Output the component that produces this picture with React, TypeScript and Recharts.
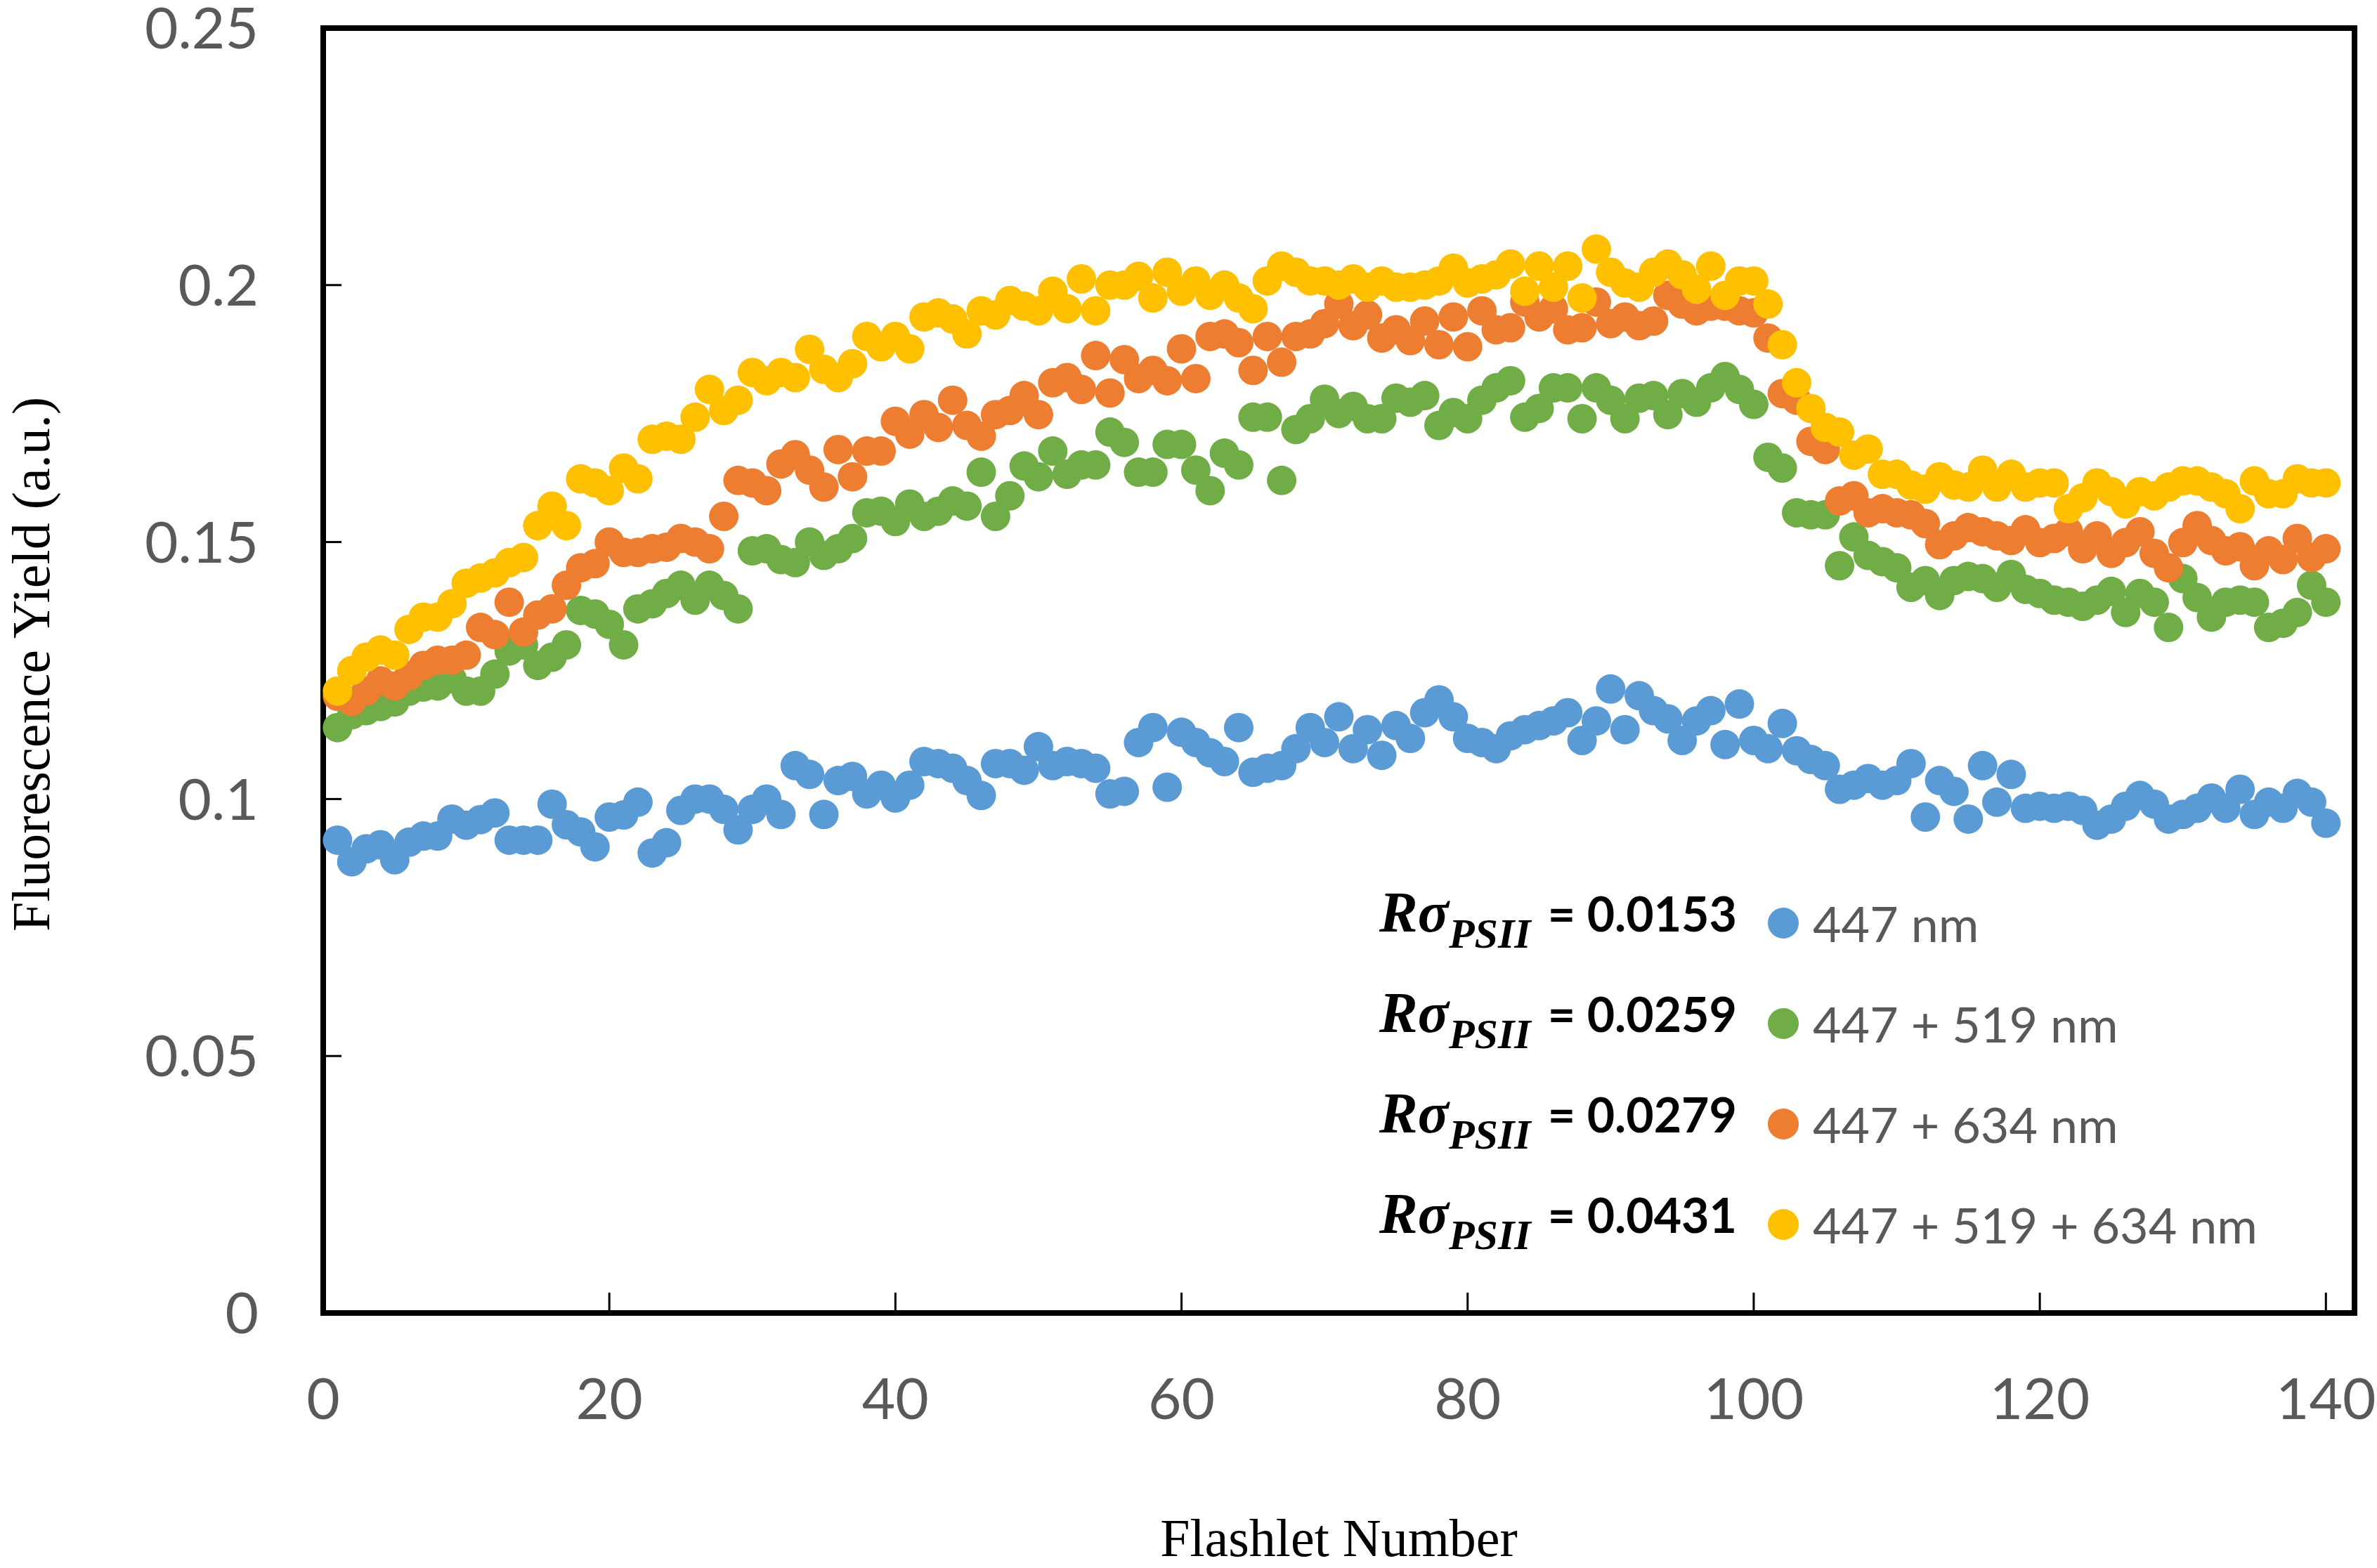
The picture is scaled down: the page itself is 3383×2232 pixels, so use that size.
import { ScatterChart, Scatter, XAxis, YAxis, ReferenceArea } from "recharts";

// fluorescence yield per flashlet (flashlet 1..140)
const yield447 = [
  0.092, 0.0878, 0.0903, 0.0911, 0.0882, 0.0916, 0.0928, 0.0928, 0.0961, 0.0949,
  0.096, 0.0973, 0.092, 0.092, 0.092, 0.099, 0.095, 0.0936, 0.0907, 0.0965,
  0.0969, 0.0994, 0.0895, 0.0915, 0.0978, 0.1, 0.1, 0.098, 0.094, 0.098,
  0.1, 0.097, 0.1065, 0.1048, 0.097, 0.1036, 0.1044, 0.101, 0.1027, 0.1002,
  0.1027, 0.1073, 0.1069, 0.106, 0.1036, 0.1007, 0.1069, 0.1069, 0.1056, 0.1102,
  0.1065, 0.1073, 0.1069, 0.106, 0.101, 0.1015, 0.111, 0.1139, 0.1023, 0.113,
  0.111, 0.109, 0.1073, 0.1139, 0.1052, 0.106, 0.1065, 0.1098, 0.1139, 0.111,
  0.116, 0.1098, 0.1135, 0.1085, 0.1143, 0.1118, 0.1168, 0.1193, 0.116, 0.1118,
  0.111, 0.1098, 0.1123, 0.1135, 0.1143, 0.1152, 0.1168, 0.1114, 0.1152, 0.1214,
  0.1135, 0.1201, 0.1172, 0.1156, 0.1114, 0.1152, 0.1172, 0.1106, 0.1185, 0.1114,
  0.1098, 0.1147, 0.1094, 0.1077, 0.1065, 0.1019, 0.1027, 0.104, 0.1027, 0.1036,
  0.1069, 0.0965, 0.1036, 0.1015, 0.0961, 0.1065, 0.0994, 0.1048, 0.0982, 0.0986,
  0.0982, 0.0986, 0.0978, 0.0949, 0.0961, 0.0986, 0.1007, 0.099, 0.0961, 0.097,
  0.0982, 0.1002, 0.0982, 0.1019, 0.097, 0.0994, 0.0982, 0.1011, 0.0994, 0.0953,
];

const yield447_519 = [
  0.1139, 0.1164, 0.1172, 0.118, 0.1189, 0.121, 0.1218, 0.122, 0.1234, 0.121,
  0.121, 0.1243, 0.1288, 0.13, 0.126, 0.1276, 0.13, 0.1367, 0.136, 0.134,
  0.13, 0.137, 0.138, 0.14, 0.1416, 0.1387, 0.1416, 0.1396, 0.137, 0.1483,
  0.1487, 0.1466, 0.146, 0.15, 0.1474, 0.1487, 0.1507, 0.1557, 0.156, 0.154,
  0.1574, 0.155, 0.156, 0.158, 0.157, 0.1636, 0.155, 0.159, 0.1648, 0.1627,
  0.1677, 0.1632, 0.165, 0.165, 0.1714, 0.1694, 0.1636, 0.1636, 0.169, 0.169,
  0.164, 0.16, 0.1673, 0.165, 0.1743, 0.1743, 0.162, 0.1719, 0.174, 0.1778,
  0.175, 0.1764, 0.174, 0.174, 0.178, 0.1772, 0.1785, 0.1727, 0.1752, 0.174,
  0.1776, 0.18, 0.1814, 0.1743, 0.176, 0.18, 0.18, 0.174, 0.18, 0.1776,
  0.174, 0.178, 0.1785, 0.1748, 0.1789, 0.1772, 0.18, 0.1822, 0.1797, 0.1768,
  0.1665, 0.1644, 0.1557, 0.1553, 0.1553, 0.1454, 0.151, 0.1474, 0.1462, 0.145,
  0.1412, 0.1425, 0.1396, 0.1425, 0.1433, 0.1429, 0.1412, 0.1437, 0.1408, 0.14,
  0.1387, 0.1383, 0.1375, 0.1387, 0.1404, 0.1363, 0.14, 0.1383, 0.1334, 0.1429,
  0.1392, 0.1354, 0.1383, 0.1387, 0.1383, 0.1334, 0.1342, 0.1363, 0.1416, 0.1383,
];

const yield447_634 = [
  0.12, 0.119, 0.121, 0.123, 0.122, 0.124, 0.126, 0.127, 0.127, 0.128,
  0.1334, 0.132, 0.1383, 0.1325, 0.1358, 0.137, 0.1416, 0.145, 0.1458, 0.15,
  0.148, 0.148, 0.1487, 0.149, 0.1507, 0.15, 0.1487, 0.155, 0.162, 0.1615,
  0.16, 0.1652, 0.167, 0.164, 0.1607, 0.168, 0.1627, 0.1677, 0.1677, 0.1735,
  0.171, 0.1748, 0.1723, 0.1776, 0.1727, 0.1706, 0.1748, 0.1756, 0.1785, 0.1748,
  0.181, 0.182, 0.1797, 0.1863, 0.179, 0.1855, 0.1818, 0.1834, 0.1814, 0.1876,
  0.1818, 0.19, 0.1905, 0.1888, 0.1834, 0.19, 0.185, 0.19, 0.1905, 0.1925,
  0.1963, 0.1921, 0.1942, 0.1897, 0.1913, 0.1892, 0.193, 0.1884, 0.1938, 0.188,
  0.195, 0.1913, 0.1917, 0.1967, 0.1938, 0.1954, 0.1913, 0.1917, 0.1967, 0.1925,
  0.1938, 0.1921, 0.193, 0.198, 0.1963, 0.195, 0.1959, 0.1959, 0.195, 0.1946,
  0.1897, 0.1789, 0.1776, 0.1696, 0.168, 0.158, 0.159, 0.1557, 0.1565, 0.1557,
  0.1553, 0.1536, 0.1495, 0.1512, 0.1528, 0.152, 0.1512, 0.1503, 0.1524, 0.1499,
  0.1507, 0.152, 0.1487, 0.1512, 0.1478, 0.1499, 0.152, 0.1478, 0.145, 0.1499,
  0.1532, 0.1503, 0.1483, 0.1491, 0.1454, 0.1483, 0.1466, 0.1507, 0.147, 0.1487,
];

const yield447_519_634 = [
  0.121, 0.125, 0.1276, 0.129, 0.128, 0.133, 0.1354, 0.1354, 0.138, 0.142,
  0.143, 0.144, 0.146, 0.147, 0.1532, 0.157, 0.1532, 0.1623, 0.1615, 0.16,
  0.1644, 0.1623, 0.17, 0.1706, 0.17, 0.1743, 0.1797, 0.1756, 0.1776, 0.183,
  0.1814, 0.183, 0.182, 0.1875, 0.1836, 0.182, 0.1847, 0.19, 0.188, 0.19,
  0.1876, 0.1938, 0.1946, 0.1934, 0.1905, 0.195, 0.1942, 0.197, 0.1959, 0.195,
  0.1988, 0.1954, 0.2012, 0.195, 0.2, 0.2, 0.2017, 0.1975, 0.2025, 0.1988,
  0.2008, 0.198, 0.2, 0.1975, 0.1954, 0.2008, 0.2037, 0.2025, 0.2008, 0.2008,
  0.2, 0.2012, 0.1996, 0.2008, 0.1996, 0.1996, 0.2, 0.2008, 0.2033, 0.2004,
  0.2012, 0.202, 0.2041, 0.1988, 0.2037, 0.1996, 0.2037, 0.1975, 0.207, 0.2025,
  0.2004, 0.1996, 0.2025, 0.2041, 0.202, 0.1992, 0.2037, 0.198, 0.2008, 0.2008,
  0.1963, 0.1884, 0.181, 0.176, 0.1723, 0.1714, 0.1669, 0.1681, 0.1632, 0.1632,
  0.1611, 0.1603, 0.1627, 0.1611, 0.1607, 0.164, 0.1607, 0.1632, 0.1607, 0.1615,
  0.1615, 0.1565, 0.1586, 0.1615, 0.1598, 0.1574, 0.1598, 0.159, 0.1607, 0.1619,
  0.1619, 0.1607, 0.1594, 0.1565, 0.1619, 0.1594, 0.1594, 0.1623, 0.1615, 0.1615,
];

const seriesNames = ["447 nm", "447 + 519 nm", "447 + 634 nm", "447 + 519 + 634 nm"];
const seriesColors = ["#5B9BD5", "#70AD47", "#ED7D31", "#FFC000"];
const rSigma = ["0.0153", "0.0259", "0.0279", "0.0431"];
const xTicks = [0, 20, 40, 60, 80, 100, 120, 140];
const yTicks = [0, 0.05, 0.1, 0.15, 0.2, 0.25];

const allSeries = [yield447, yield447_519, yield447_634, yield447_519_634];

const toPoints = (values: number[]) =>
  values.map((v, i) => ({ flashlet: i + 1, fy: v }));

const tickStyle = { fill: "#595959", fontSize: 82, fontFamily: "Lato" };

const makeDot = (color: string) => (props: any) =>
  <circle cx={props.cx} cy={props.cy} r={21} fill={color} />;

const YTitle = ({ viewBox }: any) => {
  const x = viewBox.x + 70;
  const y = viewBox.y + viewBox.height / 2 - 9;
  return (
    <text
      x={x}
      y={y}
      transform={`rotate(-90, ${x}, ${y})`}
      textAnchor="middle"
      fontFamily="Liberation Serif"
      fontSize={76}
      fill="#000"
    >
      Fluorescence Yield (a.u.)
    </text>
  );
};

const XTitle = ({ viewBox }: any) => (
  <text
    x={viewBox.x + viewBox.width / 2}
    y={viewBox.y + 346}
    textAnchor="middle"
    fontFamily="Liberation Serif"
    fontSize={76}
    fill="#000"
  >
    Flashlet Number
  </text>
);

const LegendBox = () => (
  <div style={{ position: "absolute", left: 1950, top: 1264 }}>
    {seriesNames.map((name, i) => (
      <div
        key={name}
        style={{
          position: "absolute",
          left: 0,
          top: i * 143,
          height: 100,
          display: "flex",
          alignItems: "center",
          whiteSpace: "nowrap",
        }}
      >
        <div style={{ width: 522, textAlign: "right", lineHeight: "100px" }}>
          <span style={{ fontFamily: "Liberation Serif", fontStyle: "italic", fontWeight: "bold", fontSize: 82 }}>
            Rσ
          </span>
          <span
            style={{
              fontFamily: "Liberation Serif",
              fontStyle: "italic",
              fontWeight: "bold",
              fontSize: 60,
              verticalAlign: "-0.38em",
            }}
          >
            PSII
          </span>
          <span style={{ fontFamily: "Lato", fontWeight: "bold", fontSize: 68, marginLeft: 24 }}>
            = {rSigma[i]}
          </span>
        </div>
        <div
          style={{
            marginLeft: 44,
            width: 44,
            height: 44,
            borderRadius: "50%",
            background: seriesColors[i],
          }}
        />
        <div style={{ marginLeft: 20, fontFamily: "Lato", fontSize: 70, color: "#595959", lineHeight: "100px" }}>
          {name}
        </div>
      </div>
    ))}
  </div>
);

export default function App() {
  return (
    <div style={{ position: "absolute", left: 0, top: 0, width: 3383, height: 2232, background: "#fff" }}>
      <ScatterChart width={3383} height={2232} margin={{ top: 40, right: 32, bottom: 0, left: 0 }}>
        <XAxis
          type="number"
          dataKey="flashlet"
          domain={[0, 142]}
          ticks={xTicks}
          height={363}
          axisLine={{ stroke: "#000", strokeWidth: 8 }}
          tickLine={{ stroke: "#000", strokeWidth: 3 }}
          tickSize={-29}
          tickMargin={122}
          tick={tickStyle}
          interval={0}
          allowDecimals={false}
          label={<XTitle />}
        />
        <YAxis
          type="number"
          dataKey="fy"
          domain={[0, 0.25]}
          ticks={yTicks}
          width={460}
          axisLine={{ stroke: "#000", strokeWidth: 8 }}
          tickLine={{ stroke: "#000", strokeWidth: 3 }}
          tickSize={-26}
          tickMargin={118}
          tick={tickStyle}
          interval={0}
          label={<YTitle />}
        />
        <ReferenceArea
          x1={0}
          x2={142}
          y1={0}
          y2={0.25}
          fill="none"
          stroke="#000"
          strokeWidth={8}
          ifOverflow="visible"
        />
        {allSeries.map((values, i) => (
          <Scatter
            key={seriesNames[i]}
            name={seriesNames[i]}
            data={toPoints(values)}
            fill={seriesColors[i]}
            shape={makeDot(seriesColors[i])}
            isAnimationActive={false}
          />
        ))}
      </ScatterChart>
      <LegendBox />
    </div>
  );
}
